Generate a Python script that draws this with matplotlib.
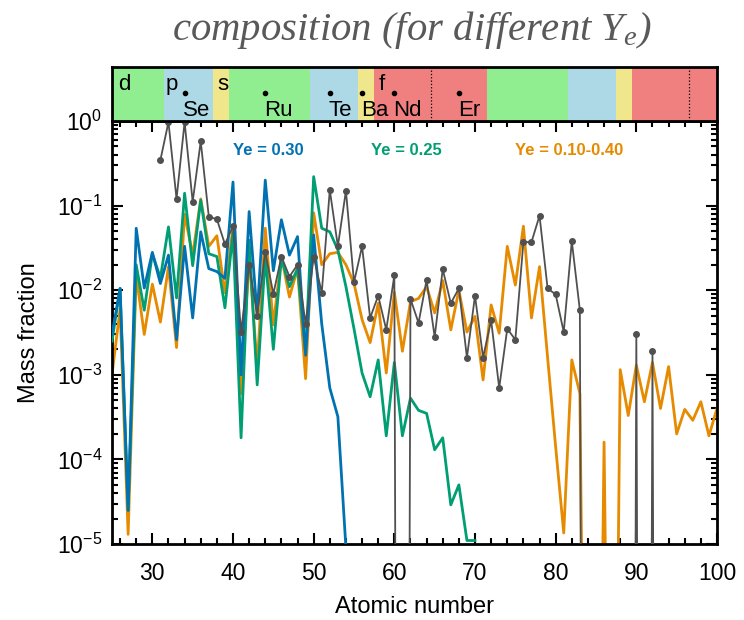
import numpy as np
import matplotlib
matplotlib.use("Agg")
import matplotlib.pyplot as plt

plt.rcParams['font.family'] = ['Liberation Sans', 'DejaVu Sans']
plt.rcParams['mathtext.default'] = 'regular'

NAN = np.nan
LOW = 1e-30  # element absent / far below plot range

Z = list(range(25, 101))

ye030 = [3e-3, 0.0105, 2.5e-5, 0.054, 0.0106, 0.028, 0.012, 0.026, 0.0026, 0.033,
         0.0047, 0.049, 0.018, 0.0166, 0.0138, 0.19, 1.0e-3, 0.085, 0.0051, 0.2,
         0.017, 0.068, 0.026, 0.043, 1.7e-3, 0.045, 0.004, 7e-4, 3.2e-4, 9e-6] + [NAN] * 46

ye025 = [2.5e-3, 0.0105, 2.5e-5, 0.02, 0.0058, 0.027, 0.014, 0.056, 0.0081, 0.14,
         0.0195, 0.116, 0.027, 0.025, 0.0062, 0.048, 1.8e-4, 0.039, 7.6e-4, 0.025,
         0.002, 0.024, 0.011, 0.018, 1.8e-3, 0.22, 0.054, 0.049, 0.03, 0.011,
         0.0035, 1.05e-3, 5.5e-4, 1.5e-3, 1.9e-4, 1.4e-3, 1.9e-4, 5.3e-4, 3.8e-4, 3.5e-4,
         1.3e-4, 1.8e-4, 2.9e-5, 5e-5, 1.1e-5, 1.1e-5] + [NAN] * 30

yemix = [1e-3, 0.006, 1.3e-5, 0.015, 0.003, 0.0118, 0.0042, 0.019, 0.0021, 0.079,
         0.026, 0.12, 0.033, 0.044, 0.0093, 0.056, 6e-4, 0.025, 1.25e-3, 0.054,
         0.0039, 0.025, 0.0083, 0.018, 9e-4, 0.082, 0.02, 0.027, 0.028, 0.02,
         0.012, 0.0045, 0.0024, 0.007, 1.05e-3, 0.0095, 1.9e-3, 0.0073, 0.008, 0.011,
         0.0054, 0.013, 0.0034, 0.01, 0.0032, 0.0049, 8.7e-4, 0.0067, 0.0031, 0.033,
         0.0115, 0.057, 0.0047, 0.019, 0.0016, 1.4e-4, 1.35e-5, 1.5e-3, 6e-4, 1e-12,
         1e-12, 1.6e-4, 1e-12, 1.15e-3, 3.3e-4, 1.3e-3, 4.8e-4, 1.4e-3, 4e-4, 1.25e-3,
         2e-4, 3.9e-4, 2.9e-4, 4.8e-4, 1.9e-4, 4e-4]

solar = [NAN] * 6 + [0.346, 0.97, 0.12, 0.97, 0.111, 0.575, 0.074, 0.069, 0.035, 0.057,
         0.0032, 0.02, 0.005, 0.0285, 0.009, 0.025, 0.0145, 0.02, 0.004, 0.025,
         0.0093, 0.153, 0.033, 0.15, 0.0124, 0.033, 0.0047, 0.0086, 0.0034, 0.015,
         LOW, 0.0079, 0.0041, 0.0132, 0.0028, 0.0177, 0.007, 0.0105, 0.0016, 0.0086,
         0.0016, 0.0044, 7e-4, 0.0035, 0.0026, 0.037, 0.037, 0.076, 0.0105, 0.0089,
         0.0032, 0.038, 0.0058, LOW, LOW, LOW, LOW, LOW, LOW, 0.003,
         LOW, 0.0019, LOW, LOW, LOW, LOW, LOW, LOW, LOW, LOW]

# band of processes
band_edges = [25, 31.5, 37.5, 39.5, 49.5, 55.5, 57.5, 71.5, 81.5, 87.5, 89.5, 100]
band_colors = ['lightgreen', 'lightblue', 'khaki', 'lightgreen', 'lightblue', 'khaki',
               'lightcoral', 'lightgreen', 'lightblue', 'khaki', 'lightcoral']
band_letters = [('d', 25.5), ('p', 31.5), ('s', 37.8), ('f', 57.9)]
band_elements = [('Se', 34), ('Ru', 44), ('Te', 52), ('Ba', 56), ('Nd', 60), ('Er', 68)]
band_dotted = [64.5, 96.5]

labels = [('Ye = 0.30', 40.0, '#0072B2'), ('Ye = 0.25', 57.1, '#009E73'),
          ('Ye = 0.10-0.40', 75.0, '#E68A00')]

W, H = 744, 620
fig = plt.figure(figsize=(W / 100, H / 100), dpi=100)

ax = fig.add_axes([112 / W, 1 - 544 / H, (717 - 112) / W, (544 - 121) / H])
bx = fig.add_axes([112 / W, 1 - 121 / H, (717 - 112) / W, (121 - 67) / H])

ax.plot(Z, yemix, color='#E68A00', lw=2.0, zorder=2)
ax.plot(Z, ye025, color='#009E73', lw=2.0, zorder=3)
ax.plot(Z, ye030, color='#0072B2', lw=2.0, zorder=4)
ax.plot(Z, solar, color='#505050', lw=1.3, marker='o', ms=4, zorder=5)

ax.set_yscale('log')
ax.set_xlim(25, 100)
ax.set_ylim(1e-5, 1)
ax.set_xticks([30, 40, 50, 60, 70, 80, 90, 100])
ax.set_xticks(np.arange(26, 100, 2), minor=True)
ax.tick_params(which='both', direction='in', top=True, right=True, labelsize=16.5, width=1.5)
ax.tick_params(which='major', length=8)
ax.tick_params(which='minor', length=4)
ax.tick_params(axis='x', pad=13)
ax.tick_params(axis='y', pad=7)
for s in ax.spines.values():
    s.set_linewidth(2)
ax.set_xlabel('Atomic number', fontsize=17, labelpad=8)
ax.set_ylabel('Mass fraction', fontsize=17, labelpad=12)

for text, xpos, col in labels:
    ax.text(xpos, 0.45, text, color=col, fontsize=12, fontweight='bold',
            ha='left', va='center', transform=ax.transData)

# band
bx.set_xlim(25, 100)
bx.set_ylim(0, 1)
for i, col in enumerate(band_colors):
    bx.axvspan(band_edges[i], band_edges[i + 1], color=col, lw=0)
for xv in band_dotted:
    bx.axvline(xv, color='black', ls=':', lw=0.9)
for t, xv in band_letters:
    bx.text(xv + 0.2, 0.68, t, fontsize=16, ha='left', va='center')
for t, xv in band_elements:
    bx.plot([xv], [0.52], 'o', color='black', ms=3)
    bx.text(xv - 0.15, 0.2, t, fontsize=16, ha='left', va='center')
bx.set_xticks([])
bx.set_yticks([])
for s in bx.spines.values():
    s.set_linewidth(2)

fig.text(0.554, 1 - 30 / H, 'composition (for different $Y_e$)', fontsize=29.3,
         family='Liberation Serif', style='italic', color='#595959',
         ha='center', va='center', math_fontfamily='dejavuserif')

fig.savefig('out.png', dpi=100)
